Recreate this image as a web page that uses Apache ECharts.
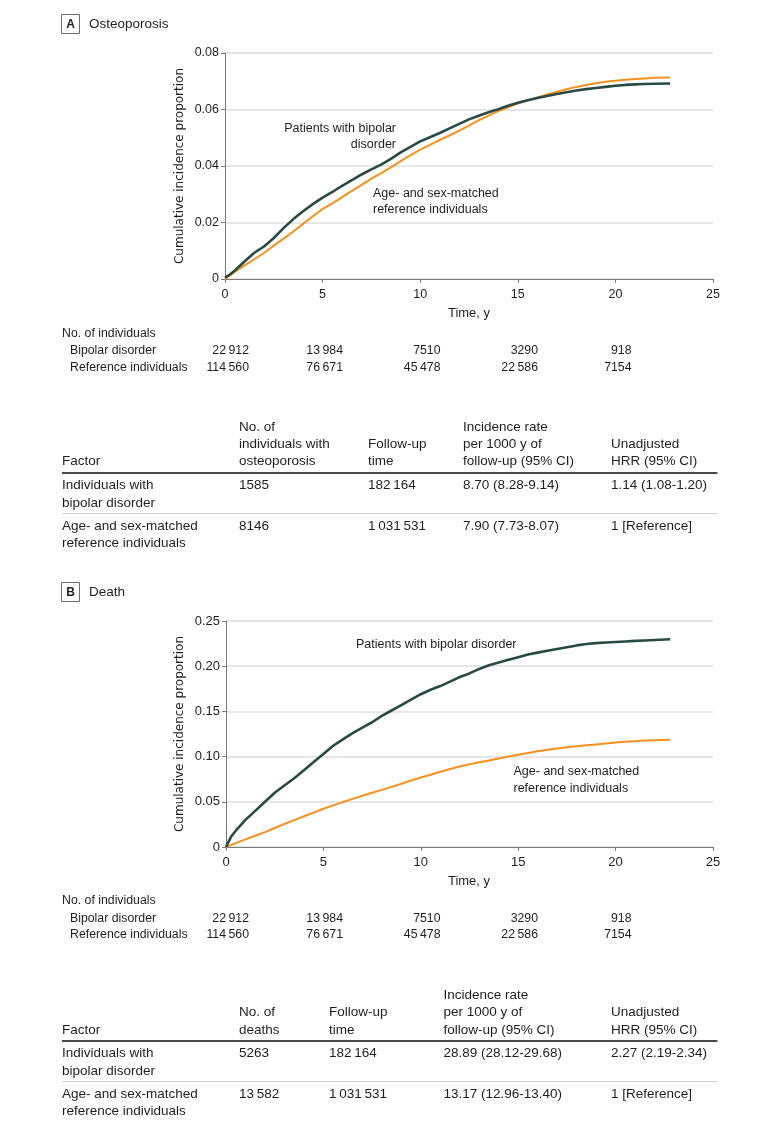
<!DOCTYPE html>
<html>
<head>
<meta charset="utf-8">
<script src="https://cdn.jsdelivr.net/npm/echarts@6/dist/echarts.min.js"></script>
<style>
html,body{margin:0;padding:0;background:#fff;}
#c{width:783px;height:1129px;}
</style>
</head>
<body>
<div id="c"></div>
<script>
// ---------- DATA ----------
const times = [0,0.25,0.5,1,1.5,2,2.5,3,3.5,4,4.5,5,5.5,6,6.5,7,7.5,8,8.5,9,9.5,10,10.5,11,11.5,12,12.5,13,13.5,14,14.5,15,15.5,16,16.5,17,17.5,18,18.5,19,19.5,20,20.5,21,21.5,22,22.8];

const bipolarOsteo = [0.0005,0.0016,0.003,0.0062,0.0093,0.0115,0.0145,0.018,0.0212,0.024,0.0265,0.0288,0.0308,0.033,0.035,0.037,0.0388,0.0405,0.0425,0.0448,0.0468,0.0487,0.0502,0.0517,0.0533,0.0549,0.0565,0.0578,0.059,0.0601,0.0613,0.0624,0.0633,0.0641,0.0648,0.0655,0.0661,0.0667,0.0672,0.0676,0.068,0.0684,0.0687,0.0689,0.069,0.0691,0.0692];
const referenceOsteo = [0,0.0012,0.0025,0.0048,0.007,0.0092,0.0118,0.0143,0.0168,0.0195,0.0222,0.0248,0.0268,0.029,0.0312,0.0333,0.0355,0.0375,0.0395,0.0417,0.0438,0.0458,0.0475,0.0492,0.0508,0.0525,0.0543,0.0562,0.0578,0.0594,0.0608,0.0621,0.0632,0.0643,0.0653,0.0663,0.0672,0.068,0.0687,0.0693,0.0698,0.0702,0.0705,0.0708,0.071,0.0712,0.0713];

const bipolarDeath = [0,0.011,0.018,0.030,0.040,0.050,0.060,0.068,0.076,0.085,0.094,0.103,0.112,0.119,0.126,0.132,0.138,0.145,0.151,0.157,0.163,0.169,0.174,0.178,0.183,0.188,0.192,0.197,0.201,0.204,0.207,0.210,0.213,0.215,0.217,0.219,0.221,0.223,0.2245,0.2255,0.2262,0.2268,0.2274,0.228,0.2285,0.229,0.2298];
const referenceDeath = [0,0.0021,0.0043,0.0085,0.0125,0.0165,0.021,0.0255,0.0298,0.034,0.038,0.0423,0.046,0.0497,0.0532,0.0567,0.06,0.0632,0.0665,0.07,0.0735,0.0768,0.08,0.0832,0.0862,0.089,0.0915,0.0938,0.0958,0.0978,0.1,0.102,0.104,0.1058,0.1075,0.109,0.1103,0.1115,0.1125,0.1135,0.1145,0.1155,0.1163,0.117,0.1177,0.1182,0.1187];

const xTicks = [0,5,10,15,20,25];
const osteoYTicks = [0,0.02,0.04,0.06,0.08];
const deathYTicks = [0,0.05,0.10,0.15,0.20,0.25];

const atRiskBipolar = [22912,13984,7510,3290,918];
const atRiskReference = [114560,76671,45478,22586,7154];

const factorLabels = [['Individuals with','bipolar disorder'],['Age- and sex-matched','reference individuals']];
const followUpTime = [182164,1031531];
const osteoCases = [1585,8146];
const osteoRates = ['8.70 (8.28-9.14)','7.90 (7.73-8.07)'];
const osteoHRR = ['1.14 (1.08-1.20)','1 [Reference]'];
const deathCases = [5263,13582];
const deathRates = ['28.89 (28.12-29.68)','13.17 (12.96-13.40)'];
const deathHRR = ['2.27 (2.19-2.34)','1 [Reference]'];

// ---------- HELPERS ----------
const TXT = '#1e1e1e';
const SANS = '"Liberation Sans", Arial, sans-serif';
const DJV = '"DejaVu Sans", sans-serif';
function fmtNum(n){
  if (n < 10000) return String(n);
  return String(n).replace(/\B(?=(\d{3})+(?!\d))/g, '\u2009');
}
function pairs(xs, ys){ return xs.map((x,i)=>[x, ys[i]]); }
function txt(x, y, s, size, opts){
  opts = opts || {};
  return {
    type:'text', x:x, y:y, rotation: opts.rotation || 0, z: 10,
    style:{ text:s, fill: opts.fill || TXT, fontSize:size, fontFamily: opts.family || SANS,
      fontWeight: opts.weight || 'normal', align: opts.align || 'left', verticalAlign:'middle' }
  };
}
function hline(x1, x2, y, w, color){
  return {type:'line', z:10, shape:{x1:x1,y1:y,x2:x2,y2:y}, style:{stroke:color, lineWidth:w}};
}
function box(x, y, w, h, letter){
  return [
    {type:'rect', z:10, shape:{x:x,y:y,width:w,height:h}, style:{fill:'#fff', stroke:'#6d6d6d', lineWidth:1}},
    txt(x + w/2, y + h/2 + 0.5, letter, 12, {weight:'bold', align:'center'})
  ];
}

const DARK = '#274b44';
const ORANGE = '#f7901e';
const AXIS = '#7a7a7a';
const GRID = '#dedede';

function xAxisCfg(idx, family, size){
  return {
    gridIndex: idx, type:'value', min:0, max:25, interval:5,
    axisLine:{show:true, lineStyle:{color:AXIS, width:1}},
    axisTick:{show:true, length:4, lineStyle:{color:AXIS}},
    axisLabel:{color:TXT, fontFamily:family, fontSize:size, margin:9},
    splitLine:{show:false}
  };
}
function yAxisCfg(idx, max, interval, family, size){
  return {
    gridIndex: idx, type:'value', min:0, max:max, interval:interval,
    axisLine:{show:true, lineStyle:{color:AXIS, width:1}},
    axisTick:{show:true, length:4, lineStyle:{color:AXIS}},
    axisLabel:{color:TXT, fontFamily:family, fontSize:size, margin:6,
      formatter: v => v === 0 ? '0' : v.toFixed(2)},
    splitLine:{show:true, lineStyle:{color:GRID, width:1.5}}
  };
}
function lineSeries(xi, data, color, width, z){
  return {type:'line', xAxisIndex:xi, yAxisIndex:xi, data:data, showSymbol:false, symbol:'none',
    lineStyle:{color:color, width:width}, z:z, animation:false, silent:true};
}

// ---------- GRAPHICS (text blocks) ----------
const g = [];
// Panel A
g.push(...box(61.5, 14.5, 18, 19, 'A'));
g.push(txt(89, 24, 'Osteoporosis', 13.5));
g.push(txt(180, 166, 'Cumulative incidence proportion', 12, {family:DJV, rotation:Math.PI/2, align:'center'}));
g.push(txt(469, 313.5, 'Time, y', 13, {align:'center'}));
g.push(txt(396, 128.5, 'Patients with bipolar', 12.5, {align:'right'}));
g.push(txt(396, 145, 'disorder', 12.5, {align:'right'}));
g.push(txt(373, 193.5, 'Age- and sex-matched', 12.5));
g.push(txt(373, 210, 'reference individuals', 12.5));

const riskRight = [249, 343, 440.5, 538, 631.5];
function riskTable(y0){
  g.push(txt(62, y0, 'No. of individuals', 12.3));
  g.push(txt(70, y0 + 17.5, 'Bipolar disorder', 12.3));
  g.push(txt(70, y0 + 34, 'Reference individuals', 12.3));
  atRiskBipolar.forEach((v,i)=> g.push(txt(riskRight[i], y0 + 17.5, fmtNum(v), 12.3, {align:'right'})));
  atRiskReference.forEach((v,i)=> g.push(txt(riskRight[i], y0 + 34, fmtNum(v), 12.3, {align:'right'})));
}
riskTable(333.5);

function dataTable(headerCols, colX, yHeadBottom, lineY, cases, rates, hrr){
  const TS = 13.5;
  headerCols.forEach((lines, ci)=>{
    lines.forEach((s, li)=>{
      const y = yHeadBottom - (lines.length - 1 - li) * 17.3;
      g.push(txt(colX[ci], y, s, TS));
    });
  });
  g.push(hline(62, 717.5, lineY, 2, '#4a4a4a'));
  const r1 = lineY + 12.5, r2 = lineY + 53;
  [r1, r2].forEach((ry, ri)=>{
    g.push(txt(colX[0], ry, factorLabels[ri][0], TS));
    g.push(txt(colX[0], ry + 17.3, factorLabels[ri][1], TS));
    g.push(txt(colX[1], ry, fmtNum(cases[ri]), TS));
    g.push(txt(colX[2], ry, fmtNum(followUpTime[ri]), TS));
    g.push(txt(colX[3], ry, rates[ri], TS));
    g.push(txt(colX[4], ry, hrr[ri], TS));
  });
  g.push(hline(62, 717.5, lineY + 40.5, 1, '#d0d0d0'));
}
dataTable([['Factor'],['No. of','individuals with','osteoporosis'],['Follow-up','time'],['Incidence rate','per 1000 y of','follow-up (95% CI)'],['Unadjusted','HRR (95% CI)']],
  [62, 239, 368, 463, 611], 461.5, 473, osteoCases, osteoRates, osteoHRR);

// Panel B
g.push(...box(61.5, 582.5, 18, 19, 'B'));
g.push(txt(89, 592, 'Death', 13.5));
g.push(txt(180, 734, 'Cumulative incidence proportion', 12, {family:DJV, rotation:Math.PI/2, align:'center'}));
g.push(txt(469, 881.5, 'Time, y', 13, {align:'center'}));
g.push(txt(356, 645, 'Patients with bipolar disorder', 12.5));
g.push(txt(513.5, 771.5, 'Age- and sex-matched', 12.5));
g.push(txt(513.5, 788.5, 'reference individuals', 12.5));
riskTable(901);
dataTable([['Factor'],['No. of','deaths'],['Follow-up','time'],['Incidence rate','per 1000 y of','follow-up (95% CI)'],['Unadjusted','HRR (95% CI)']],
  [62, 239, 329, 443.5, 611], 1030, 1041, deathCases, deathRates, deathHRR);

// ---------- CHART ----------
const chart = echarts.init(document.getElementById('c'), null, {renderer:'canvas'});
chart.setOption({
  animation:false,
  backgroundColor:'#fff',
  grid:[
    {left:225, top:53, width:488, height:226},
    {left:226, top:621, width:487, height:226}
  ],
  xAxis:[ xAxisCfg(0, SANS, 12.5), xAxisCfg(1, SANS, 13) ],
  yAxis:[ yAxisCfg(0, 0.08, 0.02, SANS, 12.5), yAxisCfg(1, 0.25, 0.05, SANS, 13) ],
  series:[
    lineSeries(0, pairs(times, referenceOsteo), ORANGE, 2, 2),
    lineSeries(0, pairs(times, bipolarOsteo), DARK, 2.6, 3),
    lineSeries(1, pairs(times, referenceDeath), ORANGE, 2, 2),
    lineSeries(1, pairs(times, bipolarDeath), DARK, 2.6, 3)
  ],
  graphic: g
});
</script>
</body>
</html>
